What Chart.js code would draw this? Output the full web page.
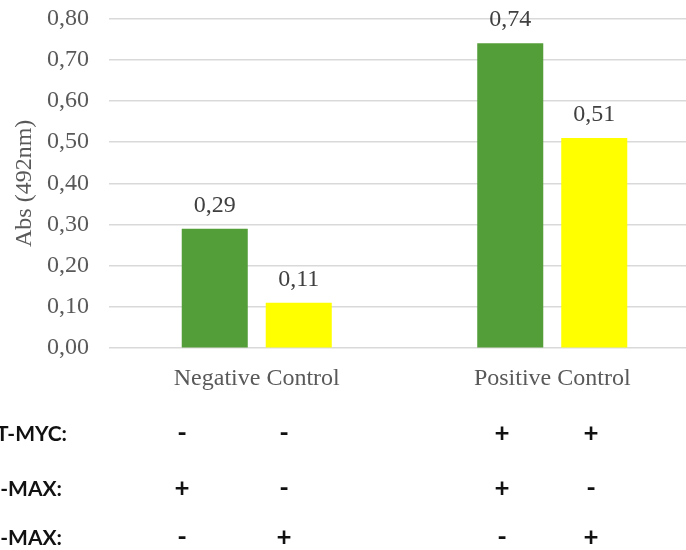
<!DOCTYPE html>
<html>
<head>
<meta charset="utf-8">
<script src="https://cdn.jsdelivr.net/npm/chart.js@4/dist/chart.umd.min.js"></script>
<style>
  html, body { margin: 0; padding: 0; background: #ffffff; overflow: hidden; }
  #wrap { width: 686px; height: 550px; overflow: hidden; }
  canvas { display: block; }
</style>
</head>
<body>
<div id="wrap"><canvas id="c" width="700" height="550"></canvas></div>
<script>
// Absorbance readings per control group
const categories = ['Negative Control', 'Positive Control'];
const greenValues = [0.29, 0.74];
const yellowValues = [0.11, 0.51];
const yTickValues = [0, 0.1, 0.2, 0.3, 0.4, 0.5, 0.6, 0.7, 0.8];

// Construct table printed under the bars
const tableRowLabels = ['T-MYC:', '-MAX:', '-MAX:'];
const tableSigns = [
  ['-', '-', '+', '+'],
  ['+', '-', '+', '-'],
  ['-', '+', '-', '+']
];

// Table layout (pixels)
const tableLabelRight = [67, 62, 62];
const tableRowY = [434, 489, 538];
const tableColX = [182, 284, 502, 591];

const serif = "'Liberation Serif', 'Times New Roman', serif";
const fmt = v => v.toFixed(2).replace('.', ',');

const valueLabels = {
  id: 'valueLabels',
  afterDatasetsDraw(chart) {
    const ctx = chart.ctx;
    ctx.save();
    ctx.font = '24px ' + serif;
    ctx.fillStyle = '#404040';
    ctx.textAlign = 'center';
    ctx.textBaseline = 'alphabetic';
    chart.data.datasets.forEach((ds, i) => {
      chart.getDatasetMeta(i).data.forEach((bar, j) => {
        ctx.fillText(fmt(ds.data[j]), bar.x, bar.y - 17);
      });
    });
    ctx.restore();
  }
};

const constructTable = {
  id: 'constructTable',
  afterDraw(chart) {
    const ctx = chart.ctx;
    ctx.save();
    ctx.filter = 'blur(0.4px)';
    ctx.fillStyle = '#111111';
    ctx.textBaseline = 'middle';
    ctx.font = "bold 21px Lato, 'Open Sans', sans-serif";
    ctx.textAlign = 'right';
    tableRowLabels.forEach((t, r) => ctx.fillText(t, tableLabelRight[r], tableRowY[r]));
    ctx.font = "bold 26px Lato, 'Open Sans', sans-serif";
    ctx.textAlign = 'center';
    tableSigns.forEach((row, r) => {
      row.forEach((s, c) => ctx.fillText(s, tableColX[c], tableRowY[r]));
    });
    ctx.restore();
  }
};

new Chart(document.getElementById('c'), {
  type: 'bar',
  data: {
    labels: categories,
    datasets: [
      { label: 'Series 1', data: greenValues, backgroundColor: '#549E39',
        categoryPercentage: 0.5685, barPercentage: 0.786 },
      { label: 'Series 2', data: yellowValues, backgroundColor: '#FFFF00',
        categoryPercentage: 0.5685, barPercentage: 0.786 }
    ]
  },
  options: {
    responsive: false,
    animation: false,
    devicePixelRatio: 1,
    layout: { padding: { top: 3, left: 10, right: 0, bottom: 141 } },
    plugins: {
      legend: { display: false },
      tooltip: { enabled: false }
    },
    scales: {
      x: {
        grid: { display: false, drawTicks: false },
        border: { display: false },
        ticks: { color: '#595959', font: { family: serif, size: 24 }, padding: 16 }
      },
      y: {
        min: 0, max: 0.8,
        afterBuildTicks(scale) { scale.ticks = yTickValues.map(v => ({ value: v })); },
        afterFit(scale) { scale.width = 99; },
        grid: { color: '#D9D9D9', lineWidth: 1.5, drawTicks: true, tickLength: 16,
                tickColor: 'rgba(0,0,0,0)' },
        border: { display: false },
        ticks: { color: '#595959', font: { family: serif, size: 24 }, padding: 4,
                 callback: v => fmt(v) },
        title: { display: true, text: 'Abs (492nm)', color: '#595959',
                 font: { family: serif, size: 24 }, padding: { top: 0, bottom: 0 } }
      }
    }
  },
  plugins: [valueLabels, constructTable]
});
</script>
</body>
</html>
